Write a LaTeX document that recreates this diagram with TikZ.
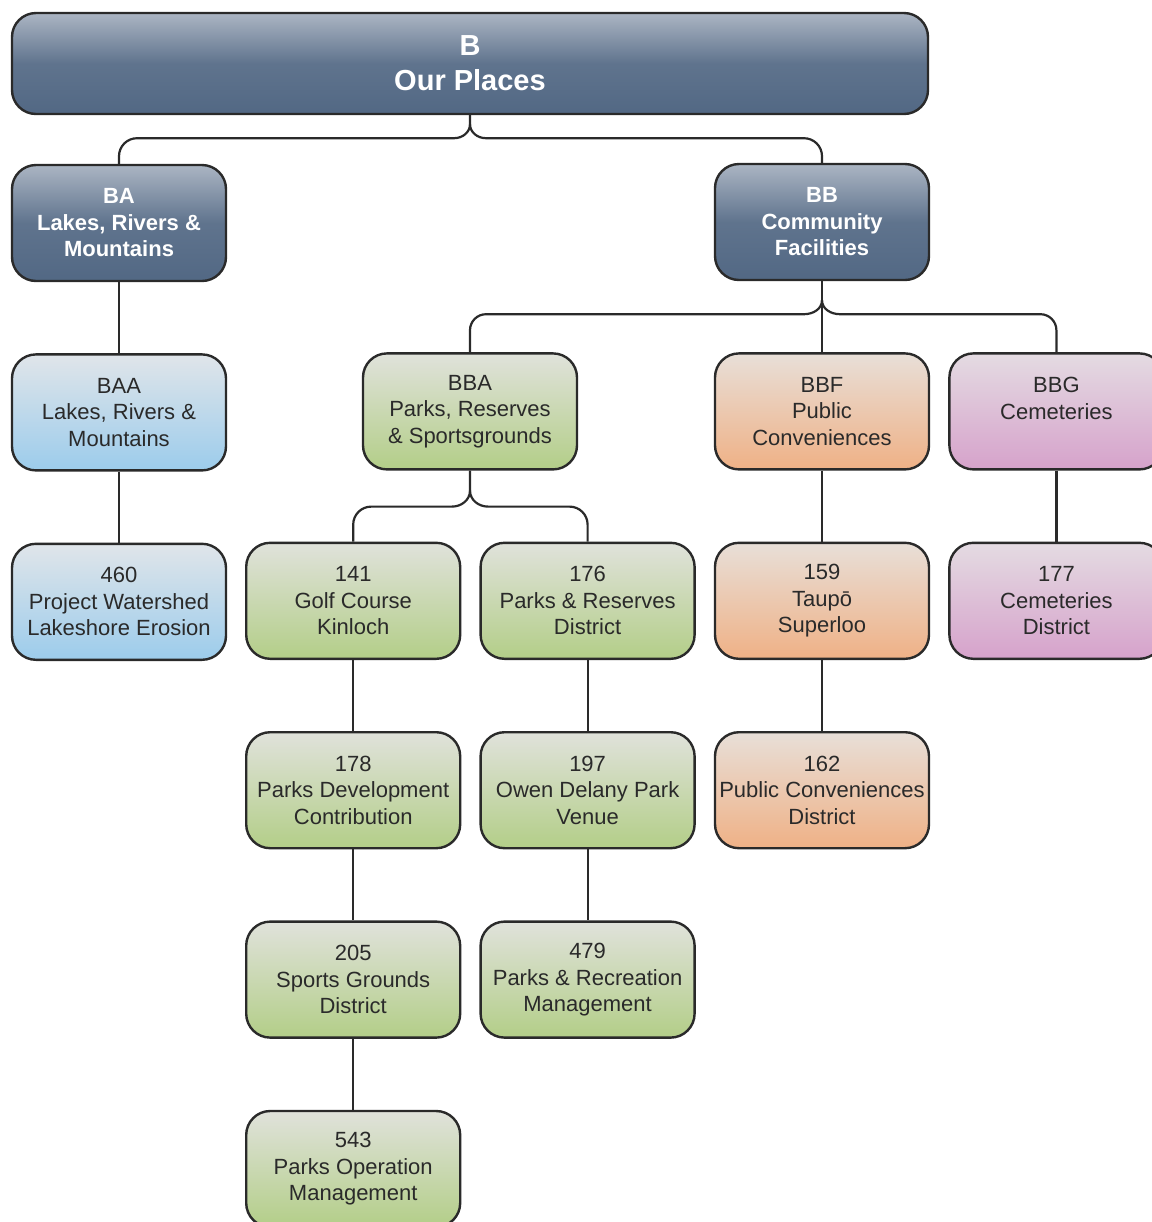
\documentclass[tikz,border=0pt]{standalone}
\usepackage{fontspec}
\setmainfont{Liberation Sans}
\usepackage{tikz}
\usetikzlibrary{positioning,calc}
\definecolor{ink}{HTML}{2A2A2A}
\definecolor{slatetop}{HTML}{ABB5C3}
\definecolor{slate}{HTML}{526884}
\definecolor{icetop}{HTML}{E0E5EA}
\definecolor{ice}{HTML}{9CCCEB}
\definecolor{leaftop}{HTML}{E0E2DB}
\definecolor{leaf}{HTML}{B3CE88}
\definecolor{peachtop}{HTML}{E8DFD8}
\definecolor{peach}{HTML}{EFB186}
\definecolor{plumtop}{HTML}{E4DBE2}
\definecolor{plum}{HTML}{D6A2CB}
\tikzset{
  link/.style={draw=ink,line width=1.1pt},
  box/.style={rounded corners=12pt,draw=ink,line width=1.2pt,align=center,
    minimum width=107pt,minimum height=58pt,inner sep=1pt,text=ink,
    font=\fontsize{11}{13.25}\selectfont},
  slatebox/.style={box,top color=slatetop,bottom color=slate,middle color=slate!85!slatetop,
    text=white,font=\fontsize{11}{13.25}\selectfont\bfseries},
  icebox/.style={box,top color=icetop,bottom color=ice},
  leafbox/.style={box,top color=leaftop,bottom color=leaf},
  peachbox/.style={box,top color=peachtop,bottom color=peach},
  plumbox/.style={box,top color=plumtop,bottom color=plum}
}
\begin{document}
\begin{tikzpicture}[node distance=35.5pt and 9pt]
  \useasboundingbox[fill=white] (0,0) rectangle (576pt,-611pt);
  % top and second level
  \node[slatebox,minimum width=458pt,minimum height=50.5pt,
    font=\fontsize{14.5}{17.5}\selectfont\bfseries] (b) at (235pt,-31.75pt) {B\\Our Places};
  \node[slatebox] (ba) at (59.5pt,-111.5pt) {BA\\Lakes, Rivers \&\\Mountains};
  \node[slatebox] (bb) at (411pt,-111pt) {BB\\Community\\Facilities};
  % third level
  \node[icebox,below=of ba] (baa) {BAA\\Lakes, Rivers \&\\Mountains};
  \node[peachbox,below=of bb] (bbf) {BBF\\Public\\Conveniences};
  \node[plumbox,right=of bbf] (bbg) {BBG\\Cemeteries\\\mbox{}};
  \node[leafbox] (bba) at (b |- bbf) {BBA\\Parks, Reserves\\\& Sportsgrounds};
  % activities
  \node[icebox,below=of baa] (a460) {460\\Project Watershed\\Lakeshore Erosion};
  \node[peachbox,below=of bbf] (a159) {159\\Taupō\\Superloo};
  \node[peachbox,below=of a159] (a162) {162\\Public Conveniences\\District};
  \node[plumbox,below=of bbg] (a177) {177\\Cemeteries\\District};
  \node[leafbox,left=of a159] (a176) {176\\Parks \& Reserves\\District};
  \node[leafbox,left=of a176] (a141) {141\\Golf Course\\Kinloch};
  \node[leafbox,below=of a141] (a178) {178\\Parks Development\\Contribution};
  \node[leafbox,below=of a178] (a205) {205\\Sports Grounds\\District};
  \node[leafbox,below=of a205] (a543) {543\\Parks Operation\\Management};
  \node[leafbox,below=of a176] (a197) {197\\Owen Delany Park\\Venue};
  \node[leafbox,below=of a197] (a479) {479\\Parks \& Recreation\\Management};
  % braces
  \draw[link] (b.south) -- ++(0,-4.5pt) coordinate (bs)
    to[out=-90,in=0] ++(-8pt,-7pt) coordinate (bl);
  \draw[link] (bs) to[out=-90,in=180] ++(8pt,-7pt) coordinate (br);
  \draw[link,rounded corners=9pt] (bl) -| (ba.north);
  \draw[link,rounded corners=9pt] (br) -| (bb.north);
  \draw[link] (bb.south) -- (bbf.north);
  \draw[link] ($(bb.south)+(0,-9.5pt)$) coordinate (bbs)
    to[out=-90,in=0] ++(-9pt,-7pt) coordinate (bbl);
  \draw[link] (bbs) to[out=-90,in=180] ++(9pt,-7pt) coordinate (bbr);
  \draw[link,rounded corners=8pt] (bbl) -| (bba.north);
  \draw[link,rounded corners=8pt] (bbr) -| (bbg.north);
  \draw[link] (bba.south) -- ++(0,-10pt) coordinate (bbas)
    to[out=-90,in=0] ++(-9pt,-8pt) coordinate (bbal);
  \draw[link] (bbas) to[out=-90,in=180] ++(9pt,-8pt) coordinate (bbar);
  \draw[link,rounded corners=9pt] (bbal) -| (a141.north);
  \draw[link,rounded corners=9pt] (bbar) -| (a176.north);
  % straight links
  \draw[link] (ba) -- (baa);
  \draw[link] (baa) -- (a460);
  \draw[link] (bbf) -- (a159);
  \draw[link] (a159) -- (a162);
  \draw[link] (bbg) -- (a177);
  \draw[link] (a141) -- (a178);
  \draw[link] (a178) -- (a205);
  \draw[link] (a205) -- (a543);
  \draw[link] (a176) -- (a197);
  \draw[link] (a197) -- (a479);
\end{tikzpicture}
\end{document}
